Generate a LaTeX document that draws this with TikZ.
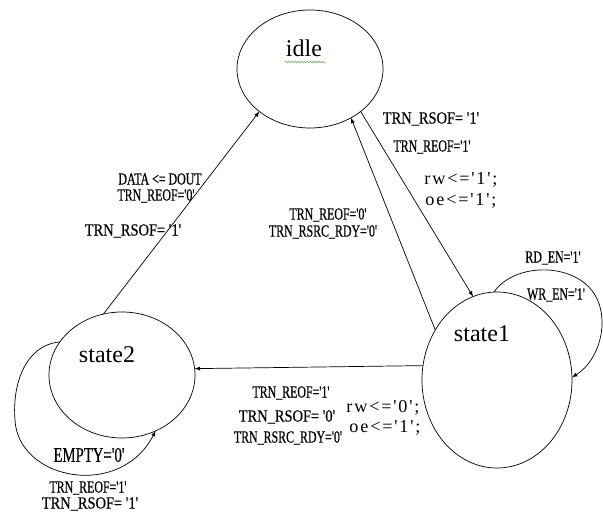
\documentclass[tikz,border=0pt]{standalone}
\usepackage{fontspec}
\setmainfont{Liberation Serif}
\newfontfamily\labfont[FakeStretch=0.7,FakeBold=0.5]{Liberation Serif}
\newfontfamily\widelabfont[FakeStretch=0.85,FakeBold=0.5]{Liberation Serif}
\newfontfamily\asgfont[LetterSpace=10]{Liberation Serif}
\usetikzlibrary{arrows}
\usetikzlibrary{shapes,decorations.pathmorphing}
\definecolor{spellgreen}{RGB}{96,176,96}

\begin{document}
\begin{tikzpicture}[x=0.03cm,y=-0.03cm,line width=0.6pt,
	stnode/.style={draw,ellipse,inner sep=0pt,outer sep=0pt},
	stname/.style={font=\fontsize{20.5}{24}\selectfont,anchor=base,inner sep=0pt},
	cond/.style={font=\labfont\fontsize{14.5}{16}\selectfont,inner sep=0pt},
	widecond/.style={font=\widelabfont\fontsize{14.5}{16}\selectfont,inner sep=0pt},
	asg/.style={font=\asgfont\fontsize{15.5}{17}\selectfont,inner sep=0pt}]
		\useasboundingbox (0,0) rectangle (603,516);
		% Etats
		\node[stnode,minimum width=4.38cm,minimum height=3.54cm] (idle) at (310,69) {};
		\node[stnode,minimum width=4.5cm,minimum height=5.28cm] (stateone) at (497,380) {};
		\node[stnode,minimum width=4.38cm,minimum height=3.78cm] (statetwo) at (122,375) {};
		\node[stname] (idlename) at (304,57) {idle};
		\node[stname] (stateonename) at (482,342) {state1};
		\node[stname] (statetwoname) at (107,363) {state2};
		\draw[spellgreen,line width=0.5pt,decorate,decoration={snake,amplitude=0.7pt,segment length=2.6pt}] (285,62) -- (325,62);
		% Transitions
		\draw[-latex] (statetwo.107) -- (idle.220);
		\draw[-latex] (idle.320) -- (stateone.106);
		\draw[-latex] (stateone.141) -- (idle.310);
		\draw[-latex] (stateone.169) -- (statetwo.5);
		% Boucles
		\draw[-latex] (statetwo.152) .. controls (25,345) and (12,385) .. (15,420) .. controls (18,480) and (120,500) .. (statetwo.-59);
		\draw[-latex] (stateone.92) .. controls (515,262) and (575,262) .. (595,295) .. controls (610,320) and (600,360) .. (stateone.2);
		% idle -> state1
		\node[widecond] (rsofidle) at (431,119) {TRN\_RSOF= '1'};
		\node[cond] (reofidle) at (432,147) {TRN\_REOF='1'};
		\node[asg] (rwone) at (461,180) {rw<='1';};
		\node[asg] (oeone) at (461,201) {oe<='1';};
		% state2 -> idle
		\node[cond] (dataout) at (160,179) {DATA <= DOUT};
		\node[cond] (reofzero) at (156,196) {TRN\_REOF='0'};
		\node[widecond] (rsoftwo) at (133,231) {TRN\_RSOF= '1'};
		% state1 -> idle
		\node[cond] (reofback) at (328,215) {TRN\_REOF='0'};
		\node[cond] (rdyback) at (323,232) {TRN\_RSRC\_RDY='0'};
		% boucle state1
		\node[cond] (rden) at (553,258) {RD\_EN='1'};
		\node[cond] (wren) at (556,295) {WR\_EN='1'};
		% state1 -> state2
		\node[cond] (reofdown) at (291,393) {TRN\_REOF='1'};
		\node[widecond] (rsofdown) at (287,417) {TRN\_RSOF= '0'};
		\node[cond] (rdydown) at (288,438) {TRN\_RSRC\_RDY='0'};
		\node[asg] (rwzero) at (383,408) {rw<='0';};
		\node[asg] (oezero) at (385,428) {oe<='1';};
		% boucle state2
		\node[cond,font=\labfont\fontsize{18}{20}\selectfont] (emptyzero) at (89,455) {EMPTY='0'};
		\node[cond] (reofloop) at (88,488) {TRN\_REOF='1'};
		\node[widecond] (rsofloop) at (90,504) {TRN\_RSOF= '1'};
\end{tikzpicture}
\end{document}
